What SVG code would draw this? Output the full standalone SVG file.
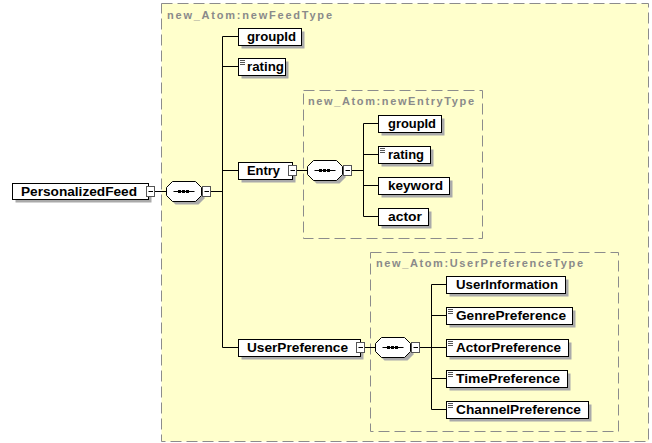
<svg xmlns="http://www.w3.org/2000/svg" width="652" height="443" viewBox="0 0 652 443">
<style>
.type{fill:#FFFFCC;stroke:#8c8c8c;stroke-width:1;stroke-dasharray:11,5}
.inner{fill:none;stroke:#8c8c8c;stroke-width:1;stroke-dasharray:11,5}
.lbl{font-family:"Liberation Sans",Arial,sans-serif;font-weight:bold;font-size:11px;fill:#8a8a8a}
.box{fill:#fff;stroke:#000;stroke-width:1}
.sh{fill:#aaaaaa}
.t{font-family:"Liberation Sans",Arial,sans-serif;font-weight:bold;font-size:12px;fill:#000}
.con{fill:none;stroke:#000;stroke-width:1}
</style>
<defs>
<g id="mn"><rect width="8" height="10" fill="#fff" stroke="#555"/><line x1="2" y1="5" x2="6.5" y2="5" stroke="#000"/></g>
<g id="seq">
<path d="M9,3 H32 L38,9 V17 L32,23 H9 L3,17 V9 Z" class="sh"/>
<path d="M6,0 H29 L35,6 V14 L29,20 H6 L0,14 V6 Z" fill="#fff" stroke="#000"/>
<line x1="7" y1="10" x2="28" y2="10" stroke="#000"/>
<rect x="11.5" y="8.5" width="3" height="3" fill="#000"/>
<rect x="15.5" y="8.5" width="3" height="3" fill="#000"/>
<rect x="19.5" y="8.5" width="3" height="3" fill="#000"/>
</g>
<g id="eq" stroke="#555" stroke-width="1"><line x1="1.5" y1="2" x2="6.5" y2="2"/><line x1="1.5" y1="4" x2="6.5" y2="4"/><line x1="1.5" y1="6" x2="6.5" y2="6"/></g>
</defs>

<g id="newFeedType">
<rect class="type" x="161.5" y="3.5" width="487" height="438"/>
<text class="lbl" x="167" y="19" textLength="165" lengthAdjust="spacing">new_Atom:newFeedType</text>
</g>
<g id="newEntryType">
<rect class="inner" x="303.5" y="90.5" width="179" height="148"/>
<text class="lbl" x="308" y="105" textLength="166" lengthAdjust="spacing">new_Atom:newEntryType</text>
</g>
<g id="UserPreferenceType">
<rect class="inner" x="370.5" y="252.5" width="248" height="179"/>
<text class="lbl" x="376" y="267" textLength="207" lengthAdjust="spacing">new_Atom:UserPreferenceType</text>
</g>

<g id="connectors" class="con">
<path d="M154.5,191.5 H166.5 M210.5,191.5 H222.5"/>
<path d="M222.5,36.5 V347.5 M222.5,36.5 H238.5 M222.5,66.5 H238.5 M222.5,170.5 H238.5 M222.5,347.5 H238.5"/>
<path d="M296.5,170.5 H307.5 M351.5,170.5 H363.5"/>
<path d="M363.5,123.5 V216.5 M363.5,123.5 H378.5 M363.5,154.5 H378.5 M363.5,185.5 H378.5 M363.5,216.5 H378.5"/>
<path d="M364.5,347.5 H375.5 M419.5,347.5 H431.5"/>
<path d="M431.5,284.5 V409.5 M431.5,284.5 H446.5 M431.5,315.5 H446.5 M431.5,347.5 H446.5 M431.5,378.5 H446.5 M431.5,409.5 H446.5"/>
</g>

<g id="PersonalizedFeed">
<rect class="sh" x="15.5" y="186.5" width="136" height="16"/>
<rect class="box" x="12.5" y="183.5" width="136" height="16"/>
<text class="t" x="21" y="196" textLength="116" lengthAdjust="spacingAndGlyphs">PersonalizedFeed</text>
<use href="#mn" x="146.5" y="186.5"/>
</g>
<g id="seq-feed">
<use href="#seq" x="166.5" y="181.5"/>
<use href="#mn" x="202.5" y="186.5"/>
</g>

<g id="groupId">
<rect class="sh" x="241.5" y="31.5" width="63" height="17"/>
<rect class="box" x="238.5" y="28.5" width="63" height="17"/>
<text class="t" x="247" y="41" textLength="49" lengthAdjust="spacingAndGlyphs">groupId</text>
</g>
<g id="rating">
<rect class="sh" x="241.5" y="61.5" width="47" height="17"/>
<rect class="box" x="238.5" y="58.5" width="47" height="17"/>
<use href="#eq" x="238.5" y="58.5"/>
<text class="t" x="247" y="71" textLength="37" lengthAdjust="spacingAndGlyphs">rating</text>
</g>
<g id="Entry">
<rect class="sh" x="241.5" y="165.5" width="54" height="17"/>
<rect class="box" x="238.5" y="162.5" width="54" height="17"/>
<text class="t" x="247" y="175" textLength="33" lengthAdjust="spacingAndGlyphs">Entry</text>
<use href="#mn" x="288.5" y="165.5"/>
</g>
<g id="seq-entry">
<use href="#seq" x="307.5" y="160.5"/>
<use href="#mn" x="343.5" y="165.5"/>
</g>
<g id="entry-groupId">
<rect class="sh" x="381.5" y="118.5" width="63" height="17"/>
<rect class="box" x="378.5" y="115.5" width="63" height="17"/>
<text class="t" x="388" y="128" textLength="48" lengthAdjust="spacingAndGlyphs">groupId</text>
</g>
<g id="entry-rating">
<rect class="sh" x="381.5" y="149.5" width="52" height="17"/>
<rect class="box" x="378.5" y="146.5" width="52" height="17"/>
<use href="#eq" x="378.5" y="146.5"/>
<text class="t" x="388" y="159" textLength="36" lengthAdjust="spacingAndGlyphs">rating</text>
</g>
<g id="keyword">
<rect class="sh" x="381.5" y="180.5" width="71" height="17"/>
<rect class="box" x="378.5" y="177.5" width="71" height="17"/>
<text class="t" x="388" y="190" textLength="55" lengthAdjust="spacingAndGlyphs">keyword</text>
</g>
<g id="actor">
<rect class="sh" x="381.5" y="211.5" width="50" height="17"/>
<rect class="box" x="378.5" y="208.5" width="50" height="17"/>
<text class="t" x="388" y="221" textLength="34" lengthAdjust="spacingAndGlyphs">actor</text>
</g>

<g id="UserPreference">
<rect class="sh" x="241.5" y="342.5" width="122" height="17"/>
<rect class="box" x="238.5" y="339.5" width="122" height="17"/>
<text class="t" x="247" y="352" textLength="101" lengthAdjust="spacingAndGlyphs">UserPreference</text>
<use href="#mn" x="356.5" y="342.5"/>
</g>
<g id="seq-userpref">
<use href="#seq" x="375.5" y="337.5"/>
<use href="#mn" x="411.5" y="342.5"/>
</g>
<g id="UserInformation">
<rect class="sh" x="449.5" y="279.5" width="119" height="17"/>
<rect class="box" x="446.5" y="276.5" width="119" height="17"/>
<text class="t" x="456" y="289" textLength="102" lengthAdjust="spacingAndGlyphs">UserInformation</text>
</g>
<g id="GenrePreference">
<rect class="sh" x="449.5" y="310.5" width="126" height="17"/>
<rect class="box" x="446.5" y="307.5" width="126" height="17"/>
<use href="#eq" x="446.5" y="307.5"/>
<text class="t" x="456" y="320" textLength="110" lengthAdjust="spacingAndGlyphs">GenrePreference</text>
</g>
<g id="ActorPreference">
<rect class="sh" x="449.5" y="342.5" width="122" height="17"/>
<rect class="box" x="446.5" y="339.5" width="122" height="17"/>
<use href="#eq" x="446.5" y="339.5"/>
<text class="t" x="456" y="352" textLength="105" lengthAdjust="spacingAndGlyphs">ActorPreference</text>
</g>
<g id="TimePreference">
<rect class="sh" x="449.5" y="373.5" width="121" height="17"/>
<rect class="box" x="446.5" y="370.5" width="121" height="17"/>
<use href="#eq" x="446.5" y="370.5"/>
<text class="t" x="456" y="383" textLength="104" lengthAdjust="spacingAndGlyphs">TimePreference</text>
</g>
<g id="ChannelPreference">
<rect class="sh" x="449.5" y="404.5" width="142" height="17"/>
<rect class="box" x="446.5" y="401.5" width="142" height="17"/>
<use href="#eq" x="446.5" y="401.5"/>
<text class="t" x="456" y="414" textLength="125" lengthAdjust="spacingAndGlyphs">ChannelPreference</text>
</g>
</svg>
